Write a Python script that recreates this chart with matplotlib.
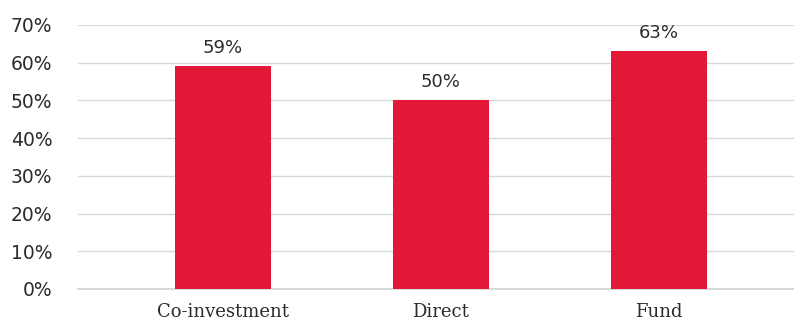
import numpy as np
import matplotlib.pyplot as plt

# Share of respondents by investment type
categories = ['Co-investment', 'Direct', 'Fund']
shares = [59, 50, 63]
y_ticks = [0, 10, 20, 30, 40, 50, 60, 70]

bar_color = '#E31837'
grid_color = '#D6DAD8'
text_color = '#2B2B2B'

fig = plt.figure(figsize=(7.94, 3.25), dpi=100)
ax = fig.add_axes([0.0982, 0.1108, 0.9018, 0.8123])

x = np.arange(len(categories))
ax.bar(x, shares, width=0.44, color=bar_color, zorder=3)

# Value labels above each bar
for xi, v in zip(x, shares):
    ax.annotate(f'{v}%', (xi, v), xytext=(0, 7), textcoords='offset points',
                ha='center', va='bottom', fontsize=13, color=text_color,
                family='DejaVu Sans')

ax.set_ylim(0, 70)
ax.set_xlim(-0.665, 2.62)
ax.set_yticks(y_ticks)
ax.set_yticklabels([f'{t}%' for t in y_ticks], family='DejaVu Sans',
                   fontsize=13.5, color=text_color)
ax.set_xticks(x)
ax.set_xticklabels(categories, family='DejaVu Serif', fontsize=13,
                   color=text_color)

ax.grid(axis='y', color=grid_color, linewidth=1, zorder=0)
for side in ['top', 'right', 'left']:
    ax.spines[side].set_visible(False)
ax.spines['bottom'].set_color(grid_color)
ax.spines['bottom'].set_linewidth(1.5)
ax.tick_params(axis='both', length=0)
ax.tick_params(axis='y', pad=18.5)
ax.tick_params(axis='x', pad=10)

fig.savefig('out.png', dpi=100)
